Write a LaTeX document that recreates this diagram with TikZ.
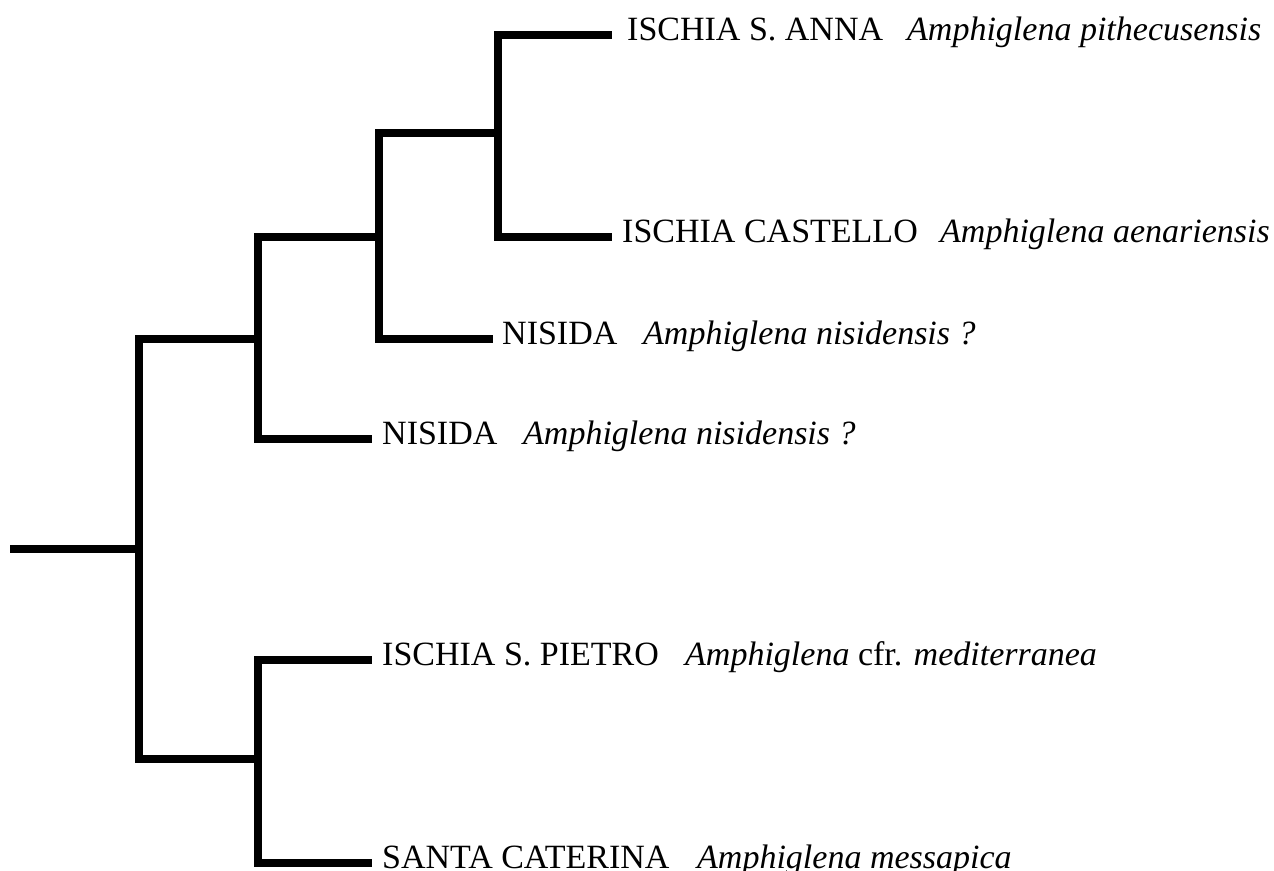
\documentclass[tikz,border=0pt]{standalone}
\usepackage{fontspec}
\setmainfont{Liberation Serif}
\begin{document}
\begin{tikzpicture}[x=1pt,y=-1pt,
  branch/.style={line width=8pt,line cap=butt,line join=miter,black},
  lab/.style={anchor=base west,inner sep=0pt,font=\fontsize{34}{40}\selectfont},
  sp/.style={lab,font=\fontsize{34}{40}\selectfont\itshape}]
\useasboundingbox[fill=white] (0,0) rectangle (1274,870);
% tree nodes
\coordinate (r0) at (10,549);
\coordinate (n1) at (139,549);
\coordinate (n2) at (258,339);
\coordinate (n3) at (379,237);
\coordinate (n4) at (498,133);
\coordinate (n6) at (258,759);
\coordinate (L1) at (612,35);
\coordinate (L2) at (612,237);
\coordinate (L3) at (493,339);
\coordinate (L4) at (372,439);
\coordinate (L5) at (372,660);
\coordinate (L6) at (372,863);
% branches
\draw[branch] (r0) -- (n1);
\draw[branch] (n1) |- (n2);
\draw[branch] (n1) |- (n6);
\draw[branch] (n2) |- (n3);
\draw[branch] (n2) |- (L4);
\draw[branch] (n3) |- (n4);
\draw[branch] (n3) |- (L3);
\draw[branch] (n4) |- (L1);
\draw[branch] (n4) |- (L2);
\draw[branch] (n6) |- (L5);
\draw[branch] (n6) |- (L6);
% labels
\node[lab] (t1) at (627,40) {ISCHIA S. ANNA};
\node[sp]  (s1) at (907,40) {Amphiglena pithecusensis};
\node[lab] (t2) at (622,242) {ISCHIA CASTELLO};
\node[sp]  (s2) at (940,242) {Amphiglena aenariensis};
\node[lab] (t3) at (502,344) {NISIDA};
\node[sp]  (s3) at (643,344) {Amphiglena nisidensis ?};
\node[lab] (t4) at (382,444) {NISIDA};
\node[sp]  (s4) at (523,444) {Amphiglena nisidensis ?};
\node[lab] (t5) at (382,665) {ISCHIA S. PIETRO};
\node[lab] (s5) at (685,665) {\itshape Amphiglena\/\upshape{} cfr. \itshape mediterranea};
\node[lab] (t6) at (382,868) {SANTA CATERINA};
\node[sp]  (s6) at (697,868) {Amphiglena messapica};
\end{tikzpicture}
\end{document}
